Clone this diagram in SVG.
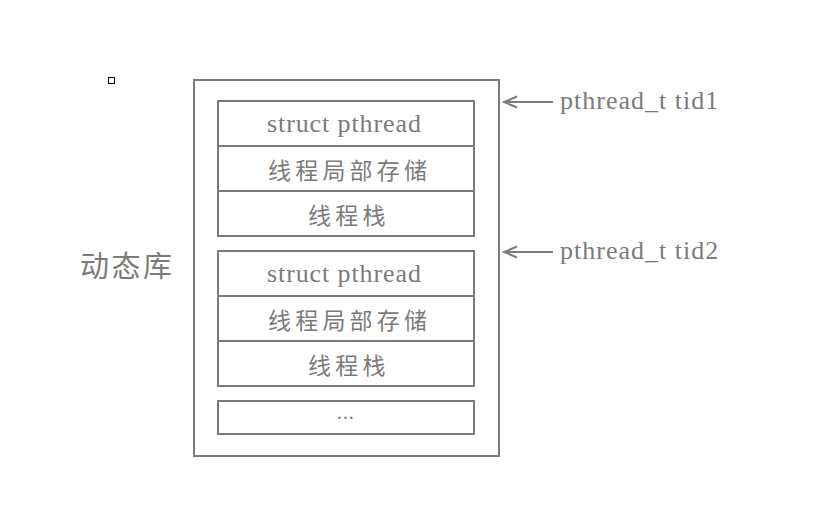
<svg xmlns="http://www.w3.org/2000/svg" width="821" height="515" viewBox="0 0 821 515">
<style>
.box{fill:none;stroke:#7b7b7b;stroke-width:2}
.en{font-family:"Liberation Serif",serif;fill:#7b7b7b;font-size:26px;letter-spacing:0.9px}
.zh{font-family:"Noto Sans CJK SC",sans-serif;font-weight:400;fill:#7b7b7b;font-size:23px;letter-spacing:4.2px}
.lbl{font-family:"Liberation Serif",serif;fill:#7b7b7b;font-size:26px;letter-spacing:1px}
.conn{stroke:#7b7b7b;stroke-width:2;fill:none}
</style>
<defs>
<marker id="ah" markerWidth="16" markerHeight="14" refX="14" refY="7" orient="auto" markerUnits="userSpaceOnUse">
<path d="M1,1.5 L14,7 L1,12.5" fill="none" stroke="#7b7b7b" stroke-width="2"/>
</marker>
</defs>
<rect x="0" y="0" width="821" height="515" fill="#fff"/>
<rect x="108.5" y="77.5" width="6" height="6" fill="none" stroke="#000" stroke-width="1"/>
<g id="lib">
<rect class="box" x="194" y="80" width="305" height="376"/>
<text x="80" y="277" style="font-family:'Noto Sans CJK SC',sans-serif;font-weight:400;fill:#7b7b7b;font-size:29px;letter-spacing:2.5px">动态库</text>
</g>
<g id="thread1">
<rect class="box" x="218" y="101" width="256" height="45"/>
<text class="en" x="267" y="132">struct pthread</text>
<rect class="box" x="218" y="146" width="256" height="45"/>
<text class="zh" x="268" y="179">线程局部存储</text>
<rect class="box" x="218" y="191" width="256" height="45"/>
<text class="zh" x="308" y="224">线程栈</text>
</g>
<g id="thread2">
<rect class="box" x="218" y="251" width="256" height="45"/>
<text class="en" x="267" y="282">struct pthread</text>
<rect class="box" x="218" y="296" width="256" height="45"/>
<text class="zh" x="268" y="329">线程局部存储</text>
<rect class="box" x="218" y="341" width="256" height="45"/>
<text class="zh" x="308" y="374">线程栈</text>
</g>
<g id="more">
<rect class="box" x="218" y="401" width="256" height="33"/>
<text class="en" x="337" y="419" style="font-size:20px">...</text>
</g>
<g id="connectors">
<line class="conn" x1="553" y1="102" x2="504" y2="102" marker-end="url(#ah)"/>
<line class="conn" x1="553" y1="252" x2="504" y2="252" marker-end="url(#ah)"/>
</g>
<g id="labels">
<text class="lbl" x="560" y="109">pthread_t tid1</text>
<text class="lbl" x="560" y="259">pthread_t tid2</text>
</g>
</svg>
